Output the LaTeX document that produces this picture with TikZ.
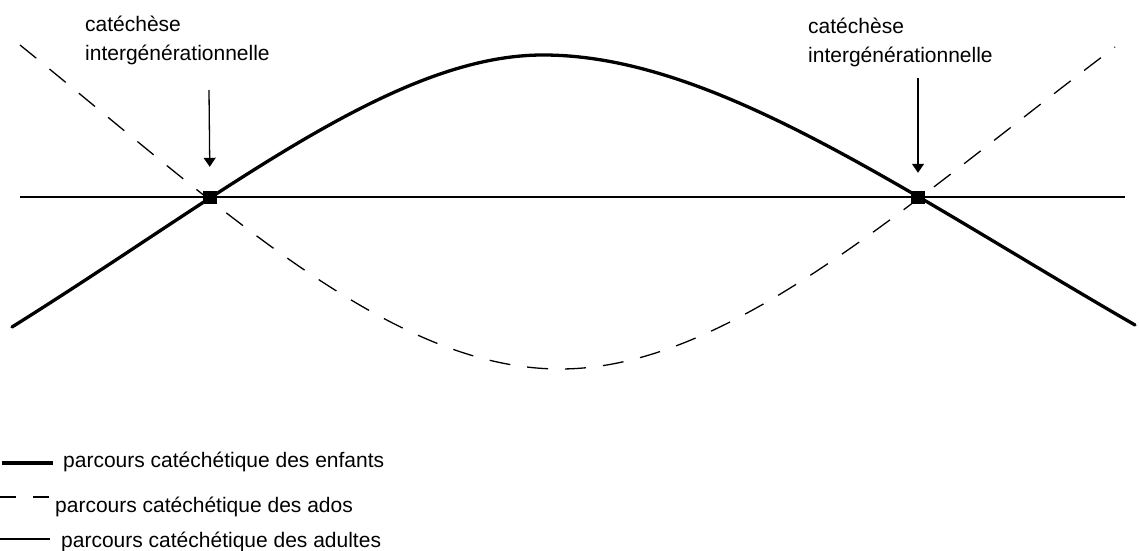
\documentclass[tikz,border=0pt]{standalone}
\usepackage{fontspec}
\setmainfont{Liberation Sans}
\usetikzlibrary{arrows.meta, positioning, calc}

\begin{document}
\begin{tikzpicture}[x=1pt, y=1pt,
    enfants/.style={line width=3.3pt, line cap=round},
    ados/.style={line width=1.3pt, dash pattern=on 21pt off 17pt},
    adultes/.style={line width=1.3pt},
    jonction/.style={draw, fill=black, minimum width=13pt, minimum height=12pt, inner sep=0pt},
    lbl/.style={font=\fontsize{21}{29}\selectfont, align=left, inner sep=0pt, anchor=base west},
    leg/.style={font=\fontsize{21}{25}\selectfont, inner sep=0pt, anchor=base west},
    arr/.style={-{Triangle[width=12pt, length=9pt]}, line width=1.3pt},
]
\useasboundingbox (0,0) rectangle (1139,550);

% === Axe des adultes ===
\coordinate (axeG) at (20,353);
\coordinate (axeD) at (1125,353);
\draw[adultes] (axeG) -- (axeD);

% === Parcours des enfants ===
\coordinate (enfG) at (12,223);
\coordinate (enfH) at (543,495);
\coordinate (enfD) at (1135,225);
\draw[enfants] (enfG) .. controls +(32:250) and +(-150,0) .. (enfH)
    .. controls +(170,0) and +(150:270) .. (enfD);

% === Parcours des ados ===
\coordinate (adoG) at (20,505);
\coordinate (adoB) at (560,181);
\coordinate (adoD) at (1115,503);
\draw[ados] (adoG) .. controls +(-39:260) and +(-170,0) .. (adoB)
    .. controls +(170,0) and +(217:260) .. (adoD);

% === Jonctions ===
\node[jonction] (jG) at (210,353) {};
\node[jonction] (jD) at (918,353) {};

% === Labels ===
\node[lbl] (labG) at (85,489) {catéchèse\\intergénérationnelle};
\node[lbl] (labD) at (808,487) {catéchèse\\intergénérationnelle};

\coordinate (flG) at (209,460);
\coordinate (flD) at (918,472);
\draw[arr, shorten >=24pt] (flG) -- (jG.north);
\draw[arr, shorten >=18pt] (flD) -- (jD.north);

% === Legende ===
\draw[enfants, line cap=butt] (2,87) -- (53,87);
\node[leg] (legEnf) at (63,83) {parcours catéchétique des enfants};
\draw[ados, dash pattern=on 16pt off 17pt] (0,53) -- (50,53);
\node[leg] (legAdo) at (55,38) {parcours catéchétique des ados};
\draw[adultes] (0,11) -- (50,11);
\node[leg] (legAdu) at (61,3) {parcours catéchétique des adultes};

\end{tikzpicture}
\end{document}
